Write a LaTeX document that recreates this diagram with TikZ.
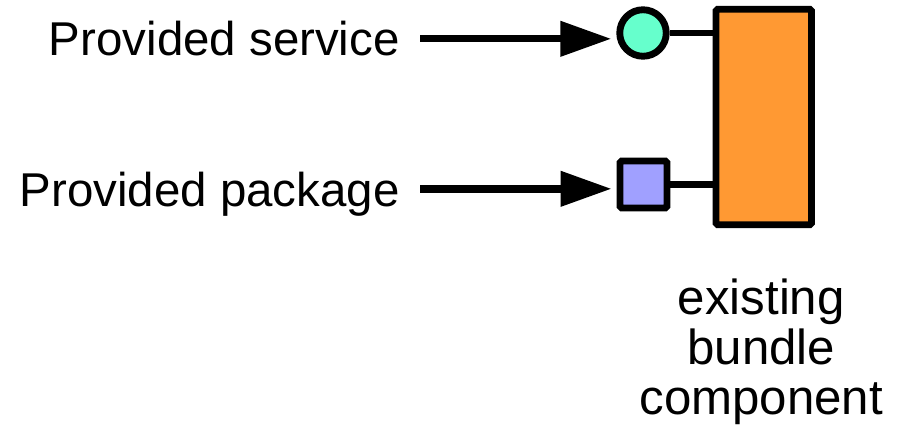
\documentclass[tikz,border=0pt]{standalone}
\usepackage{fontspec}
\setmainfont{Liberation Sans}
\usetikzlibrary{arrows.meta,positioning}
\definecolor{svcgreen}{RGB}{102,255,204}
\definecolor{pkgblue}{RGB}{160,160,255}
\definecolor{bndorange}{RGB}{255,153,51}
\tikzset{
  lbl/.style={font=\fontsize{27}{28.5}\selectfont, inner xsep=0.4cm, inner ysep=0pt, text depth=0pt},
  caption/.style={font=\fontsize{28}{28.5}\selectfont, inner sep=0pt, align=center},
  port/.style={draw=black, line width=3.9pt, inner sep=0pt},
  wire/.style={line width=3.6pt},
  feed/.style={line width=4.2pt, -{Triangle[length=1.02cm,width=0.68cm]}, shorten >=0.1cm}
}

\begin{document}
\begin{tikzpicture}
\useasboundingbox (0,0) rectangle (18.1,8.74);

% bundle with its two exports
\node[port, fill=bndorange, minimum width=1.91cm, minimum height=4.31cm, rounded corners=1pt] (comp) at (15.275,6.40) {};
\node[port, circle, fill=svcgreen, minimum size=0.93cm] (svc) at (12.86,8.08) {};
\node[port, rectangle, fill=pkgblue, minimum size=0.94cm, rounded corners=1pt] (pkg) at (12.87,5.05) {};

\draw[wire] (svc) -- (svc -| comp.west);
\draw[wire] (pkg) -- (pkg -| comp.west);

% labels
\node[lbl, anchor=base east] (svclbl) at (8.4,7.62) {Provided service};
\node[lbl, anchor=base east] (pkglbl) at (8.4,4.62) {Provided package};

\draw[feed] (svclbl.east) -- (svclbl.east -| svc.west);
\draw[feed] (pkglbl.east) -- (pkglbl.east -| pkg.west);

\node[caption, below=1.0cm of comp, xshift=-0.05cm] (cap) {existing\\bundle\\component};
\end{tikzpicture}
\end{document}
